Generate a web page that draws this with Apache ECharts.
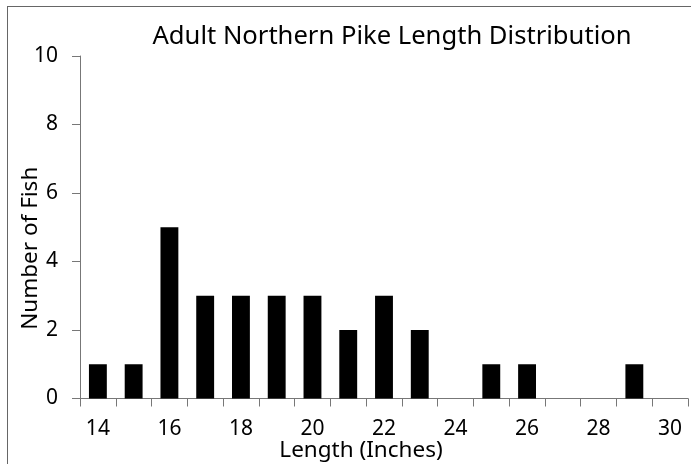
<!DOCTYPE html>
<html>
<head>
<meta charset="utf-8">
<script src="https://cdn.jsdelivr.net/npm/echarts@6/dist/echarts.min.js"></script>
<style>html,body{margin:0;padding:0;background:#fff;}#c{width:691px;height:464px;}</style>
</head>
<body>
<div id="c"></div>
<script>
const lengths = ['14','15','16','17','18','19','20','21','22','23','24','25','26','27','28','29','30'];
const counts = [1,1,5,3,3,3,3,2,3,2,0,1,1,0,0,1,0];
const yTicks = [0,2,4,6,8,10];
const titleText = 'Adult Northern Pike Length Distribution';
const xName = 'Length (Inches)';
const yName = 'Number of Fish';

const font = 'Noto Sans';
const chart = echarts.init(document.getElementById('c'), null, {renderer: 'canvas'});
chart.setOption({
  animation: false,
  backgroundColor: '#fff',
  title: {
    text: titleText, left: 387, top: 19, textAlign: 'center',
    textStyle: {fontFamily: font, fontSize: 25.6, fontWeight: 'normal', color: '#000'}
  },
  grid: {left: 80, right: 3, top: 56, bottom: 65.5, containLabel: false, outerBoundsMode: 'none'},
  xAxis: {
    type: 'category', data: lengths, boundaryGap: true,
    name: xName, nameLocation: 'middle', nameGap: 41, nameMoveOverlap: false,
    nameTextStyle: {fontFamily: font, fontSize: 22.5, color: '#000', padding: [0, 46, 0, 0]},
    axisLine: {lineStyle: {color: '#777', width: 1}},
    axisTick: {show: true, interval: 0, length: 8, lineStyle: {color: '#777'}},
    axisLabel: {interval: 1, margin: 20, fontFamily: font, fontSize: 21, color: '#000'}
  },
  yAxis: {
    type: 'value', min: yTicks[0], max: yTicks[yTicks.length-1], interval: 2,
    name: yName, nameLocation: 'middle', nameGap: 37.5, nameRotate: 90, nameMoveOverlap: false,
    nameTextStyle: {fontFamily: font, fontSize: 22.5, color: '#000', padding: [0, 42, 0, 0]},
    axisLine: {show: true, lineStyle: {color: '#777', width: 1}},
    axisTick: {show: true, length: 8, lineStyle: {color: '#777'}},
    splitLine: {show: false},
    axisLabel: {margin: 22, fontFamily: font, fontSize: 21, color: '#000'}
  },
  series: [{
    type: 'bar', data: counts, barWidth: '50%',
    itemStyle: {color: '#000'}
  }],
  graphic: [
    {type: 'line', shape: {x1: 7.5, y1: 6, x2: 7.5, y2: 464}, style: {stroke: '#666', lineWidth: 1}},
    {type: 'line', shape: {x1: 7, y1: 6.5, x2: 691, y2: 6.5}, style: {stroke: '#666', lineWidth: 1}}
  ]
});
</script>
</body>
</html>
